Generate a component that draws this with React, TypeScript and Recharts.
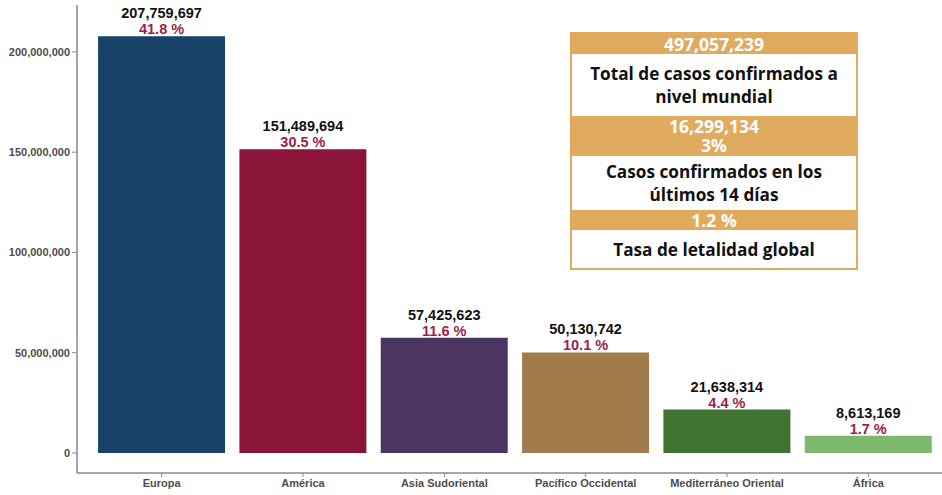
import React from "react";
import { BarChart, Bar, XAxis, YAxis, Cell, LabelList } from "recharts";

const regions = ["Europa", "América", "Asia Sudoriental", "Pacífico Occidental", "Mediterráneo Oriental", "África"];
const cases = [207759697, 151489694, 57425623, 50130742, 21638314, 8613169];
const shares = ["41.8 %", "30.5 %", "11.6 %", "10.1 %", "4.4 %", "1.7 %"];
const barColors = ["#18426A", "#8A1538", "#4B3562", "#A27B4A", "#3E7331", "#7DB86D"];
const yTicks = [0, 50000000, 100000000, 150000000, 200000000];

const boxHeaders = ["497,057,239", "16,299,134\n3%", "1.2 %"];
const boxLabels = ["Total de casos confirmados a\nnivel mundial", "Casos confirmados en los\núltimos 14 días", "Tasa de letalidad global"];

const data = regions.map((r, i) => ({ region: r, value: cases[i], share: shares[i] }));

const fmt = (v: number) => v.toLocaleString("en-US");

const renderLabel = (props: any) => {
  const { x, y, width, index } = props;
  const cx = x + width / 2;
  return (
    <g>
      <text x={cx} y={y - 18} textAnchor="middle" fontFamily="Liberation Sans, Arial, sans-serif" fontWeight={700} fontSize={14.5} fill="#111">
        {fmt(cases[index])}
      </text>
      <text x={cx} y={y - 2} textAnchor="middle" fontFamily="Liberation Sans, Arial, sans-serif" fontWeight={700} fontSize={14.5} fill="#9C1F4A">
        {shares[index]}
      </text>
    </g>
  );
};

const tan = "#E0AA5F";
const rowHeights = [[20, 62], [40, 54], [20, 38]];

export default function App() {
  return (
    <div style={{ position: "absolute", left: 0, top: 0, width: 942, height: 495, overflow: "hidden", background: "#fff" }}>
      <BarChart width={960} height={495} data={data} margin={{ top: 5, right: 0, bottom: 0, left: 0 }} barCategoryGap="5%">
        <XAxis
          dataKey="region"
          height={22}
          padding={{ left: 14, right: 21 }}
          axisLine={{ stroke: "#8a8a8a", strokeWidth: 1.5 }}
          tickLine={{ stroke: "#8a8a8a" }}
          tickSize={4}
          tickMargin={2}
          interval={0}
          tick={{ fontSize: 11, fontWeight: 700, fill: "#4d4d4d", fontFamily: "Liberation Sans, Arial, sans-serif" }}
        />
        <YAxis
          width={77}
          domain={[-10000000, 223400000]}
          allowDataOverflow
          ticks={yTicks}
          tickFormatter={fmt}
          axisLine={{ stroke: "#8a8a8a", strokeWidth: 1.5 }}
          tickLine={{ stroke: "#8a8a8a" }}
          tickSize={5}
          tickMargin={2}
          tick={{ fontSize: 11, fontWeight: 700, fill: "#4d4d4d", fontFamily: "Liberation Sans, Arial, sans-serif" }}
        />
        <Bar dataKey="value" isAnimationActive={false}>
          {data.map((d, i) => (
            <Cell key={d.region} fill={barColors[i]} />
          ))}
          <LabelList dataKey="value" content={renderLabel} />
        </Bar>
      </BarChart>
      <div
        style={{
          position: "absolute",
          left: 570,
          top: 32,
          width: 288,
          border: `2px solid ${tan}`,
          boxSizing: "border-box",
          fontFamily: "'Open Sans', sans-serif",
          fontWeight: 700,
          textAlign: "center",
          background: "#fff",
        }}
      >
        {boxHeaders.map((h, i) => (
          <React.Fragment key={i}>
            <div
              style={{
                height: rowHeights[i][0],
                background: tan,
                color: "#fff",
                fontSize: 17.5,
                lineHeight: "19px",
                display: "flex",
                flexDirection: "column",
                justifyContent: "center",
                whiteSpace: "pre-line",
              }}
            >
              {h}
            </div>
            <div
              style={{
                height: rowHeights[i][1],
                color: "#111",
                fontSize: 17.2,
                lineHeight: "23px",
                display: "flex",
                flexDirection: "column",
                justifyContent: "center",
                whiteSpace: "pre-line",
              }}
            >
              {boxLabels[i]}
            </div>
          </React.Fragment>
        ))}
      </div>
    </div>
  );
}
